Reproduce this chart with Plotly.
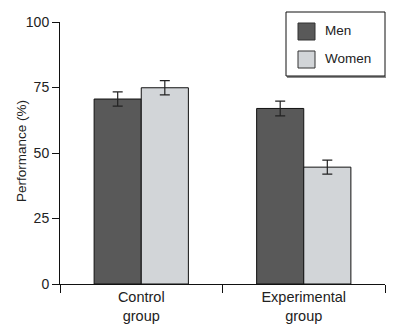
import plotly.graph_objects as go

# Data
groups = ["Control<br>group", "Experimental<br>group"]
series_names = ["Men", "Women"]
men_values = [70.6, 67.0]
women_values = [74.9, 44.6]
men_errors = [2.7, 2.8]
women_errors = [2.7, 2.7]
y_ticks = [0, 25, 50, 75, 100]
y_title = "Performance (%)"

MEN_COLOR = "#595959"
WOMEN_COLOR = "#d2d5d8"
FONT = "Liberation Sans, Arial, sans-serif"

fig = go.Figure()
for name, vals, errs, color in [
    (series_names[0], men_values, men_errors, MEN_COLOR),
    (series_names[1], women_values, women_errors, WOMEN_COLOR),
]:
    fig.add_trace(go.Bar(
        x=groups, y=vals, name=name,
        marker=dict(color=color, line=dict(color="#111111", width=1)),
        error_y=dict(type="data", array=errs, visible=True,
                     color="#222222", thickness=1.2, width=5),
        showlegend=False,
    ))

fig.update_layout(
    barmode="group",
    bargap=0.42,
    bargroupgap=0,
    width=397, height=334,
    margin=dict(l=60, r=12, t=22, b=50),
    paper_bgcolor="white",
    plot_bgcolor="white",
    font=dict(family=FONT, size=13, color="#222222"),
    xaxis=dict(
        type="category", range=[-0.5, 1.5], automargin=False,
        showline=True, linecolor="#111111", linewidth=1,
        ticks="outside", tickson="boundaries", ticklen=8,
        tickcolor="#111111", tickwidth=1,
        showgrid=False, zeroline=False,
        tickfont=dict(size=14.5),
    ),
    yaxis=dict(
        range=[0, 100], tickvals=y_ticks, automargin=False,
        showline=True, linecolor="#111111", linewidth=1,
        ticks="outside", ticklen=7, tickcolor="#111111",
        showgrid=False, zeroline=False,
        tickfont=dict(size=14),
    ),
)

def px_x(p):
    return (p - 60) / 325.0

def px_y(p):
    return (284 - p) / 262.0

# Vertical axis title
fig.add_annotation(xref="paper", yref="paper", x=px_x(21), y=px_y(151),
                   text=y_title, textangle=-90, showarrow=False,
                   xanchor="center", yanchor="middle",
                   font=dict(size=13.5, color="#222222", family=FONT))

# Legend box with a soft bottom shadow
fig.add_shape(type="line", xref="paper", yref="paper",
              x0=px_x(287), x1=px_x(386), y0=px_y(77), y1=px_y(77),
              line=dict(color="#8a8a8a", width=2))
fig.add_shape(type="rect", xref="paper", yref="paper",
              x0=px_x(286), x1=px_x(385), y0=px_y(76), y1=px_y(12),
              line=dict(color="#111111", width=1), fillcolor="white")

for i, (name, color) in enumerate(zip(series_names, [MEN_COLOR, WOMEN_COLOR])):
    top = 23 + i * 28
    fig.add_shape(type="rect", xref="paper", yref="paper",
                  x0=px_x(298), x1=px_x(315), y0=px_y(top + 17), y1=px_y(top),
                  line=dict(color="#333333", width=1), fillcolor=color)
    fig.add_annotation(xref="paper", yref="paper",
                       x=px_x(323), y=px_y(top + 7),
                       text=name, showarrow=False,
                       xanchor="left", yanchor="middle",
                       font=dict(size=13.5, color="#222222", family=FONT))

fig.write_html("out.html")
